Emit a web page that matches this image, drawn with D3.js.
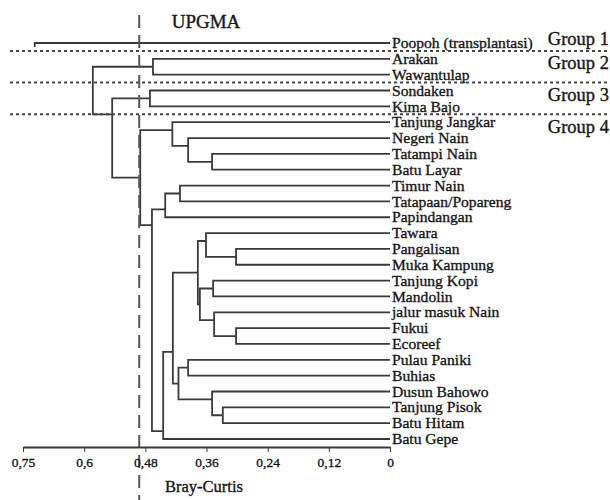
<!DOCTYPE html>
<html>
<head>
<meta charset="utf-8">
<script src="https://cdn.jsdelivr.net/npm/d3@7"></script>
<style>
    body { margin: 0; background: #fff; }
    svg { display: block; font-family: "Liberation Serif", "Times New Roman", serif; }
    .txt { fill: #161616; stroke: #161616; stroke-width: 0.35; }
</style>
</head>
<body>
<div id="chart"></div>
<script>
// leaves, top to bottom
const leaves = [
    'Poopoh (transplantasi)', 'Arakan', 'Wawantulap', 'Sondaken', 'Kima Bajo',
    'Tanjung Jangkar', 'Negeri Nain', 'Tatampi Nain', 'Batu Layar', 'Timur Nain',
    'Tatapaan/Popareng', 'Papindangan', 'Tawara', 'Pangalisan', 'Muka Kampung',
    'Tanjung Kopi', 'Mandolin', 'jalur masuk Nain', 'Fukui', 'Ecoreef',
    'Pulau Paniki', 'Buhias', 'Dusun Bahowo', 'Tanjung Pisok', 'Batu Hitam', 'Batu Gepe'
];

// [id, left, right, Bray-Curtis height]
const merges = [
    ['m1', 'Arakan', 'Wawantulap', 0.465],
    ['m2', 'Sondaken', 'Kima Bajo', 0.471],
    ['m3', 'Tatampi Nain', 'Batu Layar', 0.349],
    ['m4', 'Negeri Nain', 'm3', 0.396],
    ['m5', 'Tanjung Jangkar', 'm4', 0.427],
    ['m6', 'Timur Nain', 'Tatapaan/Popareng', 0.412],
    ['m7', 'm6', 'Papindangan', 0.441],
    ['m8', 'Pangalisan', 'Muka Kampung', 0.302],
    ['m9', 'Tawara', 'm8', 0.361],
    ['m10', 'Tanjung Kopi', 'Mandolin', 0.347],
    ['m11', 'Fukui', 'Ecoreef', 0.302],
    ['m12', 'jalur masuk Nain', 'm11', 0.345],
    ['m13', 'm10', 'm12', 0.373],
    ['m14', 'm9', 'm13', 0.377],
    ['m15', 'Pulau Paniki', 'Buhias', 0.396],
    ['m16', 'Tanjung Pisok', 'Batu Hitam', 0.328],
    ['m17', 'Dusun Bahowo', 'm16', 0.349],
    ['m18', 'm15', 'm17', 0.415],
    ['m19', 'm14', 'm18', 0.426],
    ['m20', 'm19', 'Batu Gepe', 0.445],
    ['m21', 'm7', 'm20', 0.467],
    ['m22', 'm5', 'm21', 0.490],
    ['m23', 'm2', 'm22', 0.545],
    ['m24', 'm1', 'm23', 0.583],
    ['root', 'Poopoh (transplantasi)', 'm24', 0.697]
];

const groupNames = ['Group 1', 'Group 2', 'Group 3', 'Group 4'];
const groupSizes = [1, 2, 2, 21];

const tickValues = [0.72, 0.6, 0.48, 0.36, 0.24, 0.12, 0];
const tickLabels = ['0,75', '0,6', '0,48', '0,36', '0,24', '0,12', '0'];
const cutoff = 0.492;

const WIDTH = 610, HEIGHT = 500;
const LINE = '#3a3a3a';

const svg = d3.select('#chart').append('svg')
    .attr('width', WIDTH)
    .attr('height', HEIGHT);

const x = d3.scaleLinear().domain([0.72, 0]).range([23, 390]);
const y = d3.scalePoint().domain(leaves).range([43, 439]);

// node table: leaves first, merges build on them
const nodes = new Map();
leaves.forEach(name => nodes.set(name, { h: 0, first: name, last: name, y: y(name) }));
merges.forEach(([id, a, b, h]) => {
    const left = nodes.get(a), right = nodes.get(b);
    nodes.set(id, {
        h, left, right,
        first: left.first,
        last: right.last,
        // link drawn between the two neighbouring leaves where the split happens
        y: (y(left.last) + y(right.first)) / 2
    });
});

const tree = svg.append('g')
    .attr('fill', 'none')
    .attr('stroke', LINE)
    .attr('stroke-width', 1.8);

merges.forEach(([id]) => {
    const n = nodes.get(id);
    if (id === 'root') {
        tree.append('path')
            .attr('d', `M${x(n.left.h)},${n.left.y}H${x(n.h)}v4`);
        return;
    }
    tree.append('path')
        .attr('d', `M${x(n.left.h)},${n.left.y}H${x(n.h)}V${n.right.y}H${x(n.right.h)}`);
});

// leaf labels
svg.append('g')
    .selectAll('text')
    .data(leaves)
    .join('text')
    .attr('class', 'txt')
    .attr('x', x(0) + 2)
    .attr('y', d => y(d))
    .attr('dy', '0.33em')
    .attr('font-size', 15.6)
    .text(d => d);

// group separators and names
let start = 0;
groupNames.forEach((name, i) => {
    const size = groupSizes[i];
    const firstY = y(leaves[start]);
    const secondY = y(leaves[start + Math.min(size, 2) - 1]);
    svg.append('text')
        .attr('class', 'txt')
        .attr('x', 609)
        .attr('y', (firstY + secondY) / 2 - 4)
        .attr('dy', '0.35em')
        .attr('text-anchor', 'end')
        .attr('font-size', 18.5)
        .text(name);

    start += size;
    if (start < leaves.length) {
        const sy = (y(leaves[start - 1]) + y(leaves[start])) / 2;
        svg.append('line')
            .attr('x1', 10).attr('x2', WIDTH)
            .attr('y1', sy).attr('y2', sy)
            .attr('stroke', '#444')
            .attr('stroke-width', 2)
            .attr('stroke-dasharray', '3,3');
    }
});

// cut-off line
svg.append('line')
    .attr('x1', x(cutoff)).attr('x2', x(cutoff))
    .attr('y1', 15).attr('y2', HEIGHT)
    .attr('stroke', '#555')
    .attr('stroke-width', 2)
    .attr('stroke-dasharray', '13,7');

// axis
const axis = svg.append('g')
    .attr('transform', 'translate(0,447)')
    .call(d3.axisBottom(x)
        .tickValues(tickValues)
        .tickFormat((d, i) => tickLabels[i])
        .tickSize(5)
        .tickSizeOuter(0)
        .tickPadding(5));
axis.select('.domain').attr('stroke', LINE).attr('stroke-width', 1.8);
axis.selectAll('.tick line').attr('stroke', LINE);
axis.selectAll('.tick text')
    .attr('class', 'txt')
    .attr('font-family', '"Liberation Serif", serif')
    .attr('font-size', 13.5);

svg.append('text')
    .attr('class', 'txt')
    .attr('x', 206).attr('y', 28)
    .attr('text-anchor', 'middle')
    .attr('font-size', 19)
    .text('UPGMA');

svg.append('text')
    .attr('class', 'txt')
    .attr('x', 204).attr('y', 492)
    .attr('text-anchor', 'middle')
    .attr('font-size', 16.5)
    .text('Bray-Curtis');
</script>
</body>
</html>
